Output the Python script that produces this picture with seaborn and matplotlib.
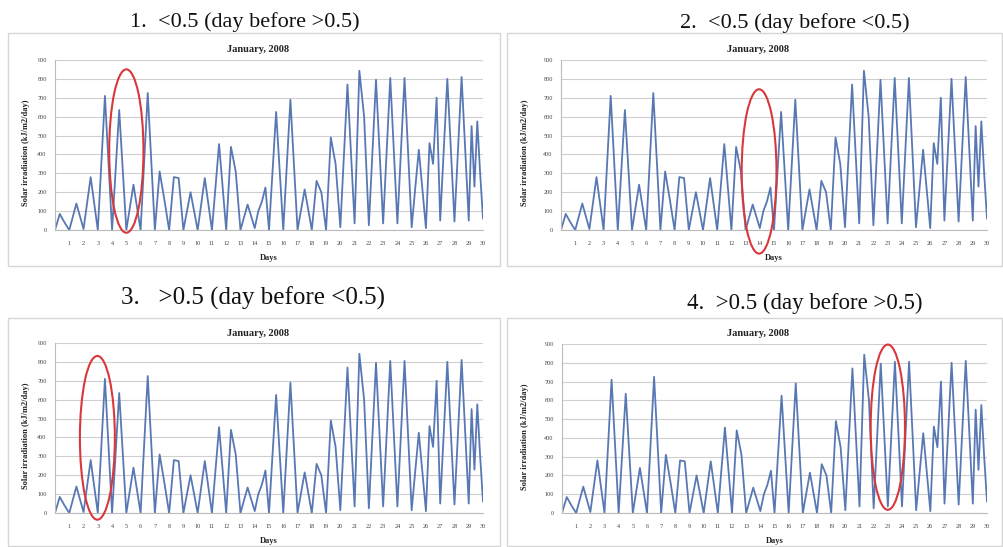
import numpy as np
import pandas as pd
import matplotlib
matplotlib.use("Agg")
import matplotlib.pyplot as plt
import seaborn as sns
from matplotlib.patches import Ellipse, Rectangle

# ---------------- data ----------------
# daytime irradiation values for each day of January 2008 (kJ/m2/day scale)
day_profiles = [
    [85, 40], [140], [280], [710], [635], [240], [725], [310, 160],
    [280, 275], [200], [275], [455], [440, 310], [135], [100, 150, 225],
    [625], [690], [215], [260, 200], [490, 350], [770], [843, 600],
    [795], [805], [805], [425], [460, 350, 700], [800], [810],
    [550, 230, 575, 300],
]
# night-time minima at the day boundaries (start, between days, end)
night_lows = [0, 0, 5, 0, 0, 0, 0, 0, 0, 0, 0, 0, 0, 0, 10, 0,
              0, 0, 0, 0, 15, 35, 25, 35, 35, 15, 10, 50, 45, 50, 60]

day_ticks = list(range(1, 31))
day_tick_labels = [str(d) for d in day_ticks]
y_ticks = list(range(0, 1000, 100))

panel_titles = [
    "1.  <0.5 (day before >0.5)",
    "2.  <0.5 (day before <0.5)",
    "3.   >0.5 (day before <0.5)",
    "4.  >0.5 (day before >0.5)",
]
# highlighted region per panel: centre day, centre value, width (days), height
highlight_day = [5.0, 13.95, 2.97, 23.0]
highlight_mid = [418, 310, 398, 457]
highlight_width = [2.4, 2.45, 2.45, 2.42]
highlight_height = [865, 870, 867, 880]

chart_title = "January, 2008"
y_label = "Solar irradiation (kJ/m2/day)"
x_label = "Days"

# ---------------- build the series ----------------
xs = [0.0]
ys = [night_lows[0]]
for k, prof in enumerate(day_profiles):
    pos = np.linspace(k, k + 1, len(prof) + 2)[1:-1]
    xs.extend(pos.tolist())
    ys.extend(prof)
    xs.append(float(k + 1))
    ys.append(night_lows[k + 1])
df = pd.DataFrame({"day": xs, "irr": ys})

# ---------------- figure ----------------
sns.set_theme(style="white")
plt.rcParams["font.family"] = ["Liberation Serif", "DejaVu Serif"]

W, H = 1004, 547
fig = plt.figure(figsize=(W / 100, H / 100), dpi=100)
fig.patch.set_facecolor("white")

# pixel layout: plot l, r, t, b; box l, r, t, b; title centre x, baseline y, title size
layout = [
    (55, 483, 60, 230, 8, 500, 33, 266, 245, 27, 16),
    (561, 987, 60, 230, 507, 1002, 33, 266, 795, 28, 16),
    (55, 483, 343, 513, 8, 500, 318, 546, 253, 305, 18),
    (562, 987, 344, 513, 507, 1002, 318, 546, 805, 309, 16.5),
]

line_color = "#5878b4"
grid_color = "#cfcfcf"

for i, (pl, pr, pt, pb, bl, br, bt, bb, tcx, tby, tfs) in enumerate(layout):
    # chart area frame
    fig.patches.append(Rectangle((bl / W, 1 - bb / H), (br - bl) / W, (bb - bt) / H,
                                 transform=fig.transFigure, fill=False,
                                 edgecolor="#d6d6d6", linewidth=1.0))
    ax = fig.add_axes([pl / W, 1 - pb / H, (pr - pl) / W, (pb - pt) / H])
    sns.lineplot(data=df, x="day", y="irr", ax=ax, sort=False, estimator=None,
                 color=line_color, linewidth=1.3)
    ax.set_xlim(0, 30)
    ax.set_ylim(0, 900)
    ax.set_xticks(day_ticks)
    ax.set_xticklabels(day_tick_labels, fontsize=4.5, color="#444444")
    ax.set_yticks(y_ticks)
    ax.set_yticklabels([str(v) for v in y_ticks], fontsize=4.5, color="#444444")
    ax.tick_params(axis="x", length=2, width=0.5, color="#aaaaaa", pad=6)
    ax.tick_params(axis="y", length=0, pad=6)
    ax.grid(axis="y", color=grid_color, linewidth=0.8)
    ax.set_axisbelow(True)
    for s in ["top", "right"]:
        ax.spines[s].set_visible(False)
    ax.spines["left"].set_color("#bbbbbb")
    ax.spines["bottom"].set_color("#bbbbbb")
    ax.spines["left"].set_linewidth(0.8)
    ax.spines["bottom"].set_linewidth(0.8)
    ax.set_xlabel("")
    ax.set_ylabel("")

    # highlight ellipse
    ax.add_patch(Ellipse((highlight_day[i], highlight_mid[i]), highlight_width[i],
                         highlight_height[i], fill=False, edgecolor="#d8383c",
                         linewidth=1.5, clip_on=False, zorder=5))

    # texts
    fig.text(tcx / W, 1 - tby / H, panel_titles[i], ha="center", va="baseline",
             fontsize=tfs, color="#111111")
    fig.text(((bl + br) / 2 + 4) / W, 1 - (bt + 16) / H, chart_title, ha="center",
             va="center", fontsize=7.5, fontweight="bold", color="#222222")
    fig.text((bl + 18) / W, 1 - ((pt + pb) / 2 + 8) / H, y_label, rotation=90,
             ha="center", va="center", fontsize=6, fontweight="bold", color="#222222")
    fig.text(((pl + pr) / 2) / W, 1 - (pb + 28) / H, x_label, ha="center",
             va="center", fontsize=6, fontweight="bold", color="#222222")

fig.savefig("out.png", dpi=100, facecolor="white")
